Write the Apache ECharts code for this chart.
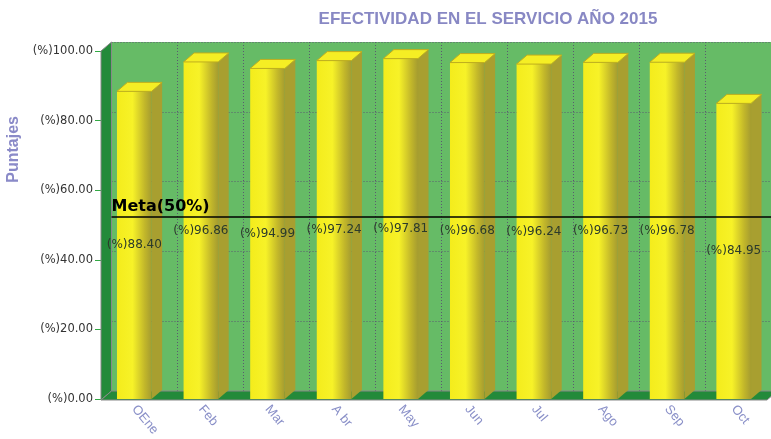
<!DOCTYPE html>
<html>
<head>
<meta charset="utf-8">
<script src="https://cdn.jsdelivr.net/npm/echarts@6/dist/echarts.min.js"></script>
<style>
  html, body { margin: 0; padding: 0; background: #fff; }
  #main { width: 771px; height: 439px; }
</style>
</head>
<body>
<div id="main"></div>
<script>
// datos del grafico
var meses = ['OEne', 'Feb', 'Mar', 'A br', 'May', 'Jun', 'Jul', 'Ago', 'Sep', 'Oct'];
var efectividad = [88.40, 96.86, 94.99, 97.24, 97.81, 96.68, 96.24, 96.73, 96.78, 84.95];
var meta = 50;
var ejeY = [0, 20, 40, 60, 80, 100];

// profundidad del efecto 3D
var DX = 10.5, DY = -9;
var FL = 101, FT = 51, FW = 666, FH = 349; // plano frontal

var chart = echarts.init(document.getElementById('main'));

function renderBar(params, api) {
  var idx = api.value(0);
  var val = api.value(1);
  var top = api.coord([idx, val]);
  var base = api.coord([idx, 0]);
  var w = api.size([1, 0])[0] * 0.52;
  var xl = top[0] - w / 2, xr = top[0] + w / 2;
  var yt = top[1], yb = base[1];
  return {
    type: 'group',
    children: [
      {
        type: 'polygon',
        shape: { points: [[xr, yt], [xr + DX, yt + DY], [xr + DX, yb + DY], [xr, yb]] },
        style: { fill: '#a89f30' }
      },
      {
        type: 'rect',
        shape: { x: xl, y: yt, width: w, height: yb - yt },
        style: {
          fill: new echarts.graphic.LinearGradient(0, 0, 1, 0, [
            { offset: 0, color: '#f4ec1c' },
            { offset: 0.45, color: '#f7f228' },
            { offset: 0.8, color: '#c2b72a' },
            { offset: 1, color: '#a59c30' }
          ])
        }
      },
      {
        type: 'polygon',
        shape: { points: [[xl, yt], [xr, yt], [xr + DX, yt + DY], [xl + DX, yt + DY]] },
        style: { fill: '#f5ee24', stroke: '#bfae1e', lineWidth: 1 }
      },
      {
        type: 'text',
        style: {
          text: '(%)' + val.toFixed(2),
          x: top[0], y: (yt + yb) / 2,
          align: 'center', verticalAlign: 'middle',
          font: '12px "DejaVu Sans"',
          fill: '#2b3a2b'
        },
        z2: 10
      }
    ]
  };
}

var option = {
  animation: false,
  title: {
    text: 'EFECTIVIDAD EN EL SERVICIO AÑO 2015',
    left: 483, top: 6, textAlign: 'center',
    textStyle: { color: '#8888c4', fontSize: 17, fontWeight: 'bold', fontFamily: 'Liberation Sans' }
  },
  graphic: [
    { // pared izquierda
      type: 'polygon', z: 1,
      shape: { points: [[FL, FT], [FL + DX, FT + DY], [FL + DX, FT + FH + DY], [FL, FT + FH]] },
      style: { fill: '#238a3a', stroke: '#888', lineWidth: 1 }
    },
    { // piso
      type: 'polygon', z: 1,
      shape: { points: [[FL, FT + FH], [FL + DX, FT + FH + DY], [FL + FW + DX, FT + FH + DY], [FL + FW, FT + FH]] },
      style: { fill: '#238a3a', stroke: '#888', lineWidth: 1 }
    },
    {
      type: 'text', left: 6, top: 116, rotation: Math.PI / 2, z: 5,
      style: {
        text: 'Puntajes', fill: '#8a8ac8',
        font: 'bold 16px "Liberation Sans"'
      }
    }
  ],
  grid: [
    { left: FL + DX, top: FT + DY, width: FW, height: FH, show: true, backgroundColor: '#66bb66', borderWidth: 0 },
    { left: FL, top: FT, width: FW, height: FH }
  ],
  xAxis: [
    {
      gridIndex: 0, type: 'category', data: meses,
      axisLine: { show: false }, axisTick: { show: false }, axisLabel: { show: false },
      splitLine: { show: true, lineStyle: { color: '#5a5a70', type: [1, 2], width: 1 } }
    },
    {
      gridIndex: 1, type: 'category', data: meses,
      axisLine: { show: true, lineStyle: { color: '#999' } },
      axisTick: { show: false },
      axisLabel: { rotate: -50, margin: 8, color: '#8a90c8', fontSize: 13, fontFamily: 'Liberation Sans' }
    }
  ],
  yAxis: [
    {
      gridIndex: 0, type: 'value', min: 0, max: 100, interval: 20,
      axisLine: { show: false }, axisTick: { show: false }, axisLabel: { show: false },
      splitLine: { show: true, lineStyle: { color: '#5a5a70', type: [1, 2], width: 1 } }
    },
    {
      gridIndex: 1, type: 'value', min: 0, max: 100, interval: 20,
      axisLine: { show: true, lineStyle: { color: '#999' } },
      axisTick: { show: true, length: 6, lineStyle: { color: '#33aa44' } },
      splitLine: { show: false },
      axisLabel: {
        margin: 8, color: '#333', fontSize: 11.5, fontFamily: 'DejaVu Sans',
        formatter: function (v) { return ejeY.indexOf(v) >= 0 ? '(%)' + v.toFixed(2) : ''; }
      }
    }
  ],
  series: [
    {
      type: 'custom', xAxisIndex: 1, yAxisIndex: 1, z: 3,
      renderItem: renderBar,
      data: efectividad.map(function (v, i) { return [i, v]; })
    },
    {
      type: 'line', xAxisIndex: 0, yAxisIndex: 0, z: 10,
      data: [],
      markLine: {
        silent: true, symbol: 'none',
        lineStyle: { color: '#000', width: 1.5, type: 'solid' },
        label: {
          position: 'insideStartTop', formatter: 'Meta(' + meta + '%)', distance: [0, 2],
          color: '#000', fontSize: 16, fontWeight: 'bold', fontFamily: 'DejaVu Sans'
        },
        data: [{ yAxis: meta }]
      }
    }
  ]
};

chart.setOption(option);
</script>
</body>
</html>
